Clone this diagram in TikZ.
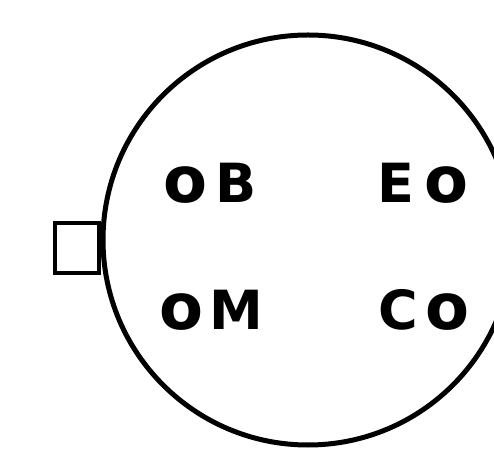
\documentclass[tikz,border=0pt]{standalone}
\usepackage{fontspec}
\setmainfont{DejaVu Sans}
\newcommand{\bigo}{{\fontsize{64}{64}\selectfont o}}
\begin{document}
\begin{tikzpicture}[x=1pt,y=1pt,
  lbl/.style={font=\fontsize{54}{54}\selectfont\bfseries, inner sep=0pt, anchor=base},
  outline/.style={line width=5pt, draw=black}]
\useasboundingbox (0,0) rectangle (494,457);
\fill[white] (0,0) rectangle (494,457);
\node[outline, circle, minimum size=410pt, inner sep=0pt] (disc) at (308,217) {};
\node[outline, line width=4pt, rectangle, minimum width=44pt, minimum height=50pt, inner sep=0pt, anchor=east] (tab) at ([yshift=-8pt]disc.west) {};
\node[lbl] (ob) at (210,254) {\bigo\hspace{8pt}B};
\node[lbl] (eo) at (423,254) {E\hspace{10pt}\bigo};
\node[lbl] (om) at (211,127) {\bigo\hspace{6pt}M};
\node[lbl] (co) at (424,127) {C\hspace{8pt}\bigo};
\end{tikzpicture}
\end{document}
